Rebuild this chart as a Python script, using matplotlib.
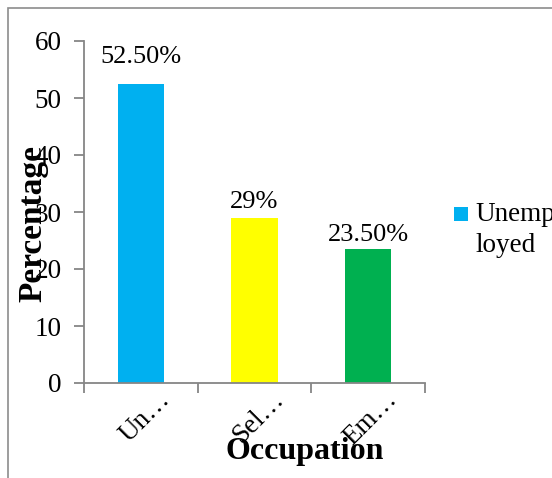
import matplotlib
matplotlib.use("Agg")
import matplotlib.pyplot as plt
from matplotlib.patches import Rectangle

categories = ["Un…", "Sel…", "Em…"]
values = [52.5, 29.0, 23.5]
value_labels = ["52.50%", "29%", "23.50%"]
bar_colors = ["#00B0F0", "#FFFF00", "#00B050"]
legend_label = "Unemp\nloyed"
y_ticks = [0, 10, 20, 30, 40, 50, 60]

plt.rcParams["font.family"] = ["Liberation Serif", "DejaVu Serif"]
W, H = 552, 478
fig = plt.figure(figsize=(W / 100, H / 100), dpi=100)

# outer chart frame (cropped at right and bottom)
fig.patches.append(Rectangle((8 / W, -0.1), 1.2, (H - 8) / H + 0.1,
                             transform=fig.transFigure, fill=False,
                             edgecolor="#8c8c8c", linewidth=1.2))

ax = fig.add_axes([84 / W, (H - 383) / H, (425 - 84) / W, (383 - 41) / H])
x = list(range(len(categories)))
bars = ax.bar(x, values, width=0.405, color=bar_colors)

ax.set_xlim(-0.5, len(categories) - 0.5)
ax.set_ylim(0, 60)
ax.set_yticks(y_ticks)
ax.set_yticklabels([str(t) for t in y_ticks], fontsize=19.5)

# category ticks sit on the boundaries between bars
ax.set_xticks([i - 0.5 for i in range(len(categories) + 1)])
ax.set_xticklabels([])
ax.tick_params(axis="x", length=7, width=1.3, color="#868686", direction="out")
ax.tick_params(axis="y", length=7, width=1.3, color="#868686", direction="out", pad=9)

for i, lab in enumerate(categories):
    ax.annotate(lab, xy=(i, 0), xycoords=("data", "axes fraction"),
                xytext=(12, -3), textcoords="offset points",
                rotation=45, ha="right", va="top", rotation_mode="anchor",
                fontsize=19.5)

for s in ("top", "right"):
    ax.spines[s].set_visible(False)
for s in ("left", "bottom"):
    ax.spines[s].set_color("#868686")
    ax.spines[s].set_linewidth(1.3)

label_offsets = [19, 11, 10]
for b, v, lab, off in zip(bars, values, value_labels, label_offsets):
    ax.annotate(lab, xy=(b.get_x() + b.get_width() / 2, v),
                xytext=(0, off), textcoords="offset points",
                ha="center", va="center", fontsize=19, annotation_clip=False)

fig.text(33 / W, 1 - 224 / H, "Percentage", rotation=90, ha="center",
         va="center", fontsize=24, fontweight="bold")
fig.text(305 / W, 1 - 452 / H, "Occupation", ha="center", va="center",
         fontsize=23, fontweight="bold")

# legend: swatch aligned with the first line of the wrapped series name
fig.patches.append(Rectangle((454 / W, 1 - 221 / H), 14 / W, 14 / H,
                             transform=fig.transFigure,
                             facecolor=bar_colors[0], edgecolor="none"))
fig.text(475 / W, 1 - 202 / H, legend_label, ha="left", va="top",
         fontsize=19.5, linespacing=1.3)

fig.savefig("out.png", dpi=100)
